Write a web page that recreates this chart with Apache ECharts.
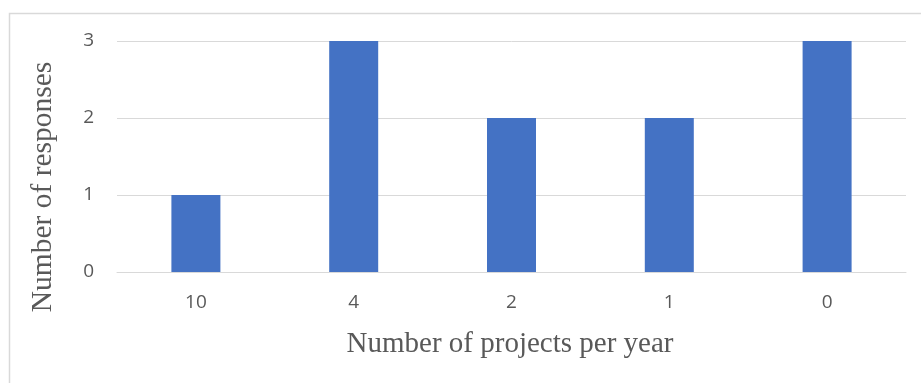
<!DOCTYPE html>
<html>
<head>
<meta charset="utf-8">
<script src="https://cdn.jsdelivr.net/npm/echarts@6/dist/echarts.min.js"></script>
<style>html,body{margin:0;padding:0;background:#fff}#c{width:921px;height:383px}</style>
</head>
<body>
<div id="c"></div>
<script>
var categories = ['10', '4', '2', '1', '0'];
var responses = [1, 3, 2, 2, 3];
var yTicks = [0, 1, 2, 3];
var xTitle = 'Number of projects per year';
var yTitle = 'Number of responses';

var chart = echarts.init(document.getElementById('c'), null, {renderer: 'canvas'});
chart.setOption({
  animation: false,
  backgroundColor: '#fff',
  grid: {left: 117, right: 15, top: 41, bottom: 111, containLabel: false},
  xAxis: {
    type: 'category',
    data: categories,
    axisLine: {show: true, lineStyle: {color: '#d9d9d9', width: 1}},
    axisTick: {show: false},
    axisLabel: {color: '#595959', fontFamily: 'Open Sans', fontSize: 19, margin: 21}
  },
  yAxis: {
    type: 'value',
    min: yTicks[0], max: yTicks[yTicks.length - 1], interval: 1,
    axisLine: {show: false},
    axisTick: {show: false},
    splitLine: {lineStyle: {color: '#d9d9d9', width: 1}},
    axisLabel: {color: '#595959', fontFamily: 'Open Sans', fontSize: 19, margin: 23}
  },
  series: [{
    type: 'bar',
    data: responses,
    barWidth: 49,
    itemStyle: {color: '#4472c4'}
  }],
  graphic: [
    {type: 'rect', left: 7, top: 11, z: -10, shape: {width: 1000, height: 1000}, style: {fill: 'none', stroke: '#d9d9d9', lineWidth: 1.5}},
    {type: 'text', x: 510, y: 344, style: {text: xTitle, fill: '#595959', font: '29px "Liberation Serif"', textAlign: 'center', textVerticalAlign: 'middle'}},
    {type: 'text', x: 43, y: 187, rotation: Math.PI / 2, style: {text: yTitle, fill: '#595959', font: '29.5px "Liberation Serif"', textAlign: 'center', textVerticalAlign: 'middle'}}
  ]
});
</script>
</body>
</html>
